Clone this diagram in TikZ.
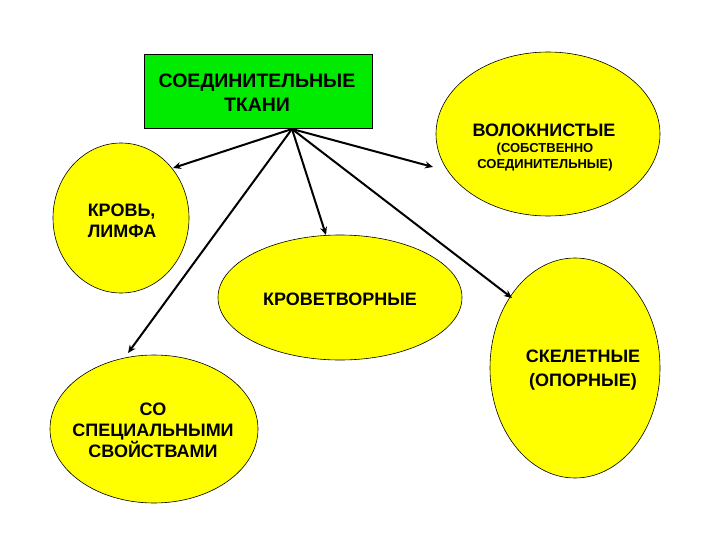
\documentclass[tikz,border=0pt]{standalone}
\usepackage{fontspec}
\setmainfont{Liberation Sans}
\usetikzlibrary{shapes.geometric,arrows.meta}
\definecolor{boxgreen}{RGB}{0,235,0}
\definecolor{blobyellow}{RGB}{255,255,0}
\tikzset{
 blob/.style={ellipse,draw=black,line width=0.6pt,fill=blobyellow,inner sep=0pt},
 lbl/.style={font=\bfseries\fontsize{18}{21}\selectfont,align=center,inner sep=0pt},
 rlbl/.style={font=\bfseries\fontsize{19.5}{24}\selectfont,align=center,inner sep=0pt},
 small/.style={font=\bfseries\fontsize{13}{16}\selectfont,align=center,inner sep=0pt},
 arr/.style={line width=2pt,-{Stealth[length=8pt,width=7pt]}}
}
\begin{document}
\begin{tikzpicture}[x=1pt,y=-1pt]
\useasboundingbox (0,0) rectangle (720,540);
\node[draw, fill=boxgreen, minimum width=228pt, minimum height=74pt, anchor=north west, line width=0.6pt, inner sep=0pt] (root) at (144,54) {};
\node[rlbl] (rootlbl) at (257,93) {СОЕДИНИТЕЛЬНЫЕ\\ТКАНИ};

\node[blob, minimum width=224pt, minimum height=164pt] (fib) at (548,134) {};
\node[lbl] (fiblbl) at (544,130) {ВОЛОКНИСТЫЕ};
\node[small] (fibsub) at (545,157) {(СОБСТВЕННО\\СОЕДИНИТЕЛЬНЫЕ)};

\node[blob, minimum width=136pt, minimum height=150pt] (krov) at (121,218) {};
\node[lbl, align=left] (krovlbl) at (122,221) {КРОВЬ,\\ЛИМФА};

\node[blob, minimum width=244pt, minimum height=125pt] (hemo) at (340,297.5) {};
\node[lbl] (hemolbl) at (340,299) {КРОВЕТВОРНЫЕ};

\node[blob, minimum width=170pt, minimum height=220pt] (skel) at (575,368) {};
\node[lbl, font=\bfseries\fontsize{18}{24}\selectfont] (skellbl) at (583,370) {СКЕЛЕТНЫЕ\\(ОПОРНЫЕ)};

\node[blob, minimum width=208pt, minimum height=148pt] (spec) at (154,429) {};
\node[lbl] (speclbl) at (153,430) {СО\\СПЕЦИАЛЬНЫМИ\\СВОЙСТВАМИ};

\coordinate (src) at (292,129);
\coordinate (eKrov) at (173,168);
\coordinate (eFib) at (433,167);
\coordinate (eHemo) at (326,235);
\coordinate (eSpec) at (128,353);
\coordinate (eSkel) at (512,298);

\draw[arr] (src) -- (eKrov);
\draw[arr] (src) -- (eFib);
\draw[arr] (src) -- (eHemo);
\draw[arr] (src) -- (eSpec);
\draw[arr] (src) -- (eSkel);
\end{tikzpicture}
\end{document}
